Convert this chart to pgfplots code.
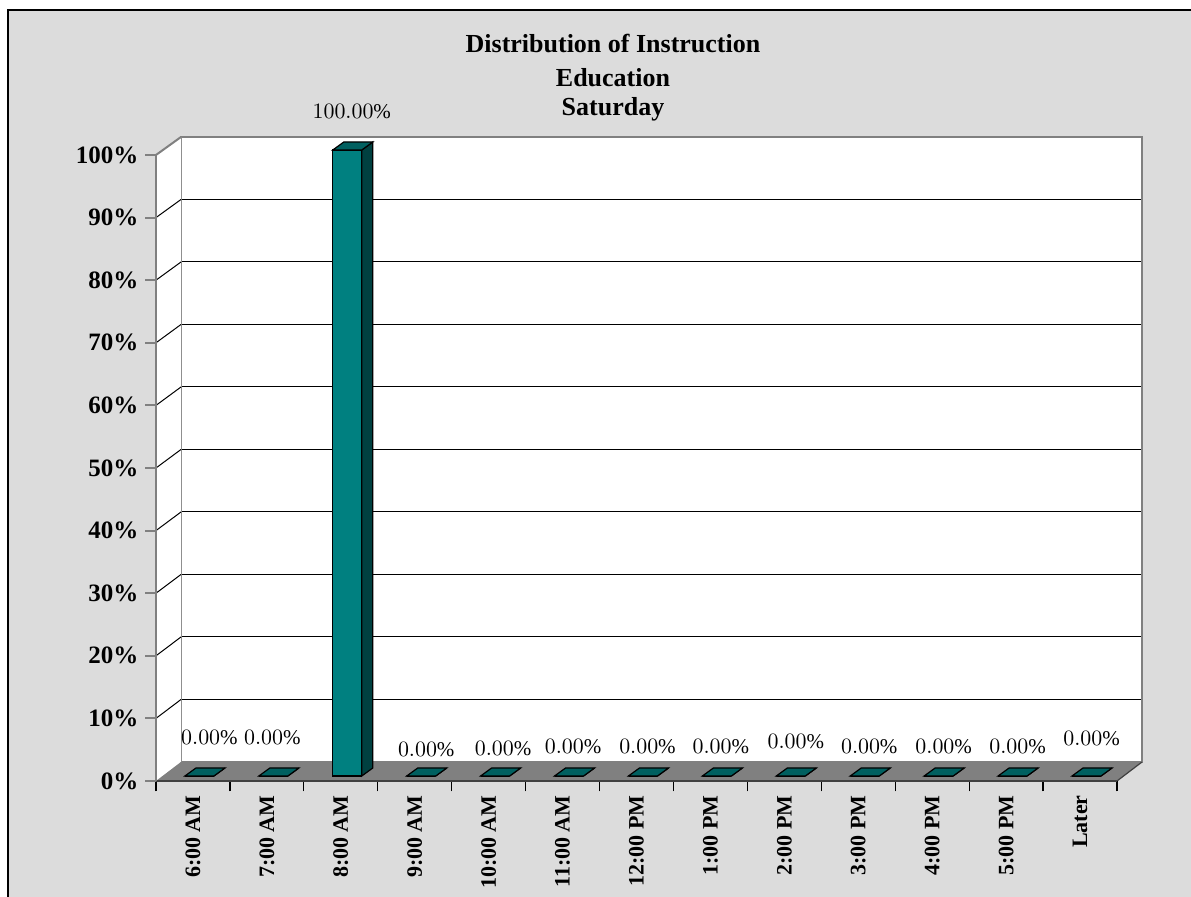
\documentclass[border=0pt]{standalone}
\usepackage{pgfplots}
\pgfplotsset{compat=1.18}
\usepackage{pgfplotstable}
\usepackage{fontspec}
\setmainfont{Liberation Serif}

\definecolor{bgmarble}{RGB}{220,220,220}
\definecolor{barfront}{RGB}{0,128,128}
\definecolor{barside}{RGB}{0,64,64}
\definecolor{bartop}{RGB}{0,96,96}
\definecolor{wallgray}{RGB}{128,128,128}

\pgfdeclareplotmark{nothing}{}

% x = slot index, y = share in percent, lx/ly = label offset (px of the reference)
\pgfplotstableread{
x  y    lx   ly
0  0    10   38
1  0    -1   38
2  100  4.5  38
3  0    5    26
4  0    8    27
5  0    4    29
6  0    4.5  29
7  0    4    29
8  0    5    34
9  0    4.5  29
10 0    5    29
11 0    5    29
12 0    5    37
}\saturday

\begin{document}
\begin{tikzpicture}
% 1 px of the reference = 0.5pt
\useasboundingbox (0,0) rectangle (595.5pt,448.5pt);
\fill[white] (0,0) rectangle (595.5pt,448.5pt);
\filldraw[fill=bgmarble, draw=black, line width=0.6pt] (4pt,-5pt) rectangle (600pt,443.5pt);

% title
\node[anchor=base, font=\bfseries\fontsize{13pt}{15pt}\selectfont] at (306.5pt,422pt) {Distribution of Instruction};
\node[anchor=base, font=\bfseries\fontsize{13pt}{15pt}\selectfont] at (306.5pt,405pt) {Education};
\node[anchor=base, font=\bfseries\fontsize{13pt}{15pt}\selectfont] at (306.5pt,390.5pt) {Saturday};

% back wall
\begin{axis}[
  at={(90.5pt,67.5pt)}, anchor=south west,
  scale only axis, width=480.5pt, height=312.5pt,
  xmin=-0.5, xmax=12.5, ymin=0, ymax=100,
  xtick=\empty, ytick={10,20,...,90}, yticklabels={},
  major tick length=0pt,
  ymajorgrids, grid style={black, line width=0.5pt},
  axis background/.style={fill=white},
  axis line style={wallgray, line width=1pt},
]
\end{axis}

% left wall and floor
\fill[white] (78pt,58pt) -- (90.5pt,67.5pt) -- (90.5pt,380pt) -- (78pt,371pt) -- cycle;
\foreach \k in {1,...,9}
  \draw[black, line width=0.5pt] (78pt,{58pt+31.3pt*\k}) -- (90.5pt,{67.5pt+31.25pt*\k});
\draw[wallgray, line width=1pt] (78pt,371pt) -- (90.5pt,380pt);
\fill[wallgray] (78pt,58pt) -- (558.5pt,58pt) -- (571pt,67.5pt) -- (90.5pt,67.5pt) -- cycle;
\draw[black!75, line width=0.6pt] (558.5pt,58pt) -- (571pt,67.5pt);

% front axis: ticks and labels
\begin{axis}[
  at={(78pt,58pt)}, anchor=south west,
  scale only axis, width=480.5pt, height=313pt,
  xmin=-0.5, xmax=12.5, ymin=0, ymax=100,
  axis x line*=bottom, axis y line*=left,
  x axis line style={-, black!75, line width=0.6pt},
  y axis line style={-, wallgray, line width=1pt},
  tick align=outside, major tick length=5.25pt,
  xtick={-0.5,0.5,...,12.5}, xticklabels={},
  xtick style={black, line width=0.6pt},
  ytick={0,10,...,100},
  yticklabels={0\%,10\%,20\%,30\%,40\%,50\%,60\%,70\%,80\%,90\%,100\%},
  ytick style={wallgray, line width=1pt},
  yticklabel style={font=\bfseries\fontsize{12.5pt}{15pt}\selectfont},
  xticklabel shift=1.75pt,
  extra x ticks={0,1,...,12},
  extra x tick labels={6:00 AM,7:00 AM,8:00 AM,9:00 AM,10:00 AM,11:00 AM,12:00 PM,1:00 PM,2:00 PM,3:00 PM,4:00 PM,5:00 PM,Later},
  extra x tick style={tick style={draw=none},
    xticklabel style={rotate=90, anchor=east, inner sep=0pt,
      font=\bfseries\fontsize{11pt}{13pt}\selectfont}},
]
\end{axis}

% bars
\begin{axis}[
  at={(81.25pt,60.5pt)}, anchor=south west,
  scale only axis, width=480.5pt, height=313pt,
  xmin=-0.5, xmax=12.5, ymin=0, ymax=100,
  hide axis, clip=false,
]
\addplot[scatter, only marks, mark=nothing,
  visualization depends on={y \as \vy},
  scatter/@pre marker code/.code={%
    \pgfmathsetlengthmacro\hh{\vy*3.13pt}%
    \filldraw[fill=barside, draw=black, line width=0.6pt]
      (7.25pt,0pt) -- (12.75pt,4pt) -- (12.75pt,{4pt-\hh}) -- (7.25pt,-\hh) -- cycle;
    \filldraw[fill=bartop, draw=black, line width=0.6pt]
      (-7.25pt,0pt) -- (7.25pt,0pt) -- (12.75pt,4pt) -- (-1.75pt,4pt) -- cycle;
  },
  scatter/@post marker code/.code={},
] table[x=x, y=y] {\saturday};
\addplot[ybar, bar width=14.5pt, fill=barfront, draw=black, line width=0.6pt,
  visualization depends on={\thisrow{lx} \as \lx},
  visualization depends on={\thisrow{ly} \as \ly},
  nodes near coords={\pgfmathprintnumber[fixed, fixed zerofill, precision=2]{\pgfplotspointmeta}\%},
  every node near coord/.append style={anchor=center, xshift={\lx*0.5pt}, yshift={\ly*0.5pt},
    font=\fontsize{10.5pt}{12pt}\selectfont, text=black},
] table[x=x, y=y] {\saturday};
\end{axis}
\end{tikzpicture}
\end{document}
